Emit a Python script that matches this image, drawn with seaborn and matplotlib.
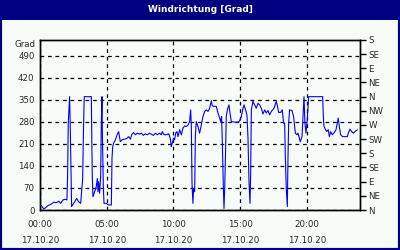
import matplotlib
matplotlib.use("Agg")
import matplotlib.pyplot as plt
from matplotlib.patches import Rectangle
import seaborn as sns
import pandas as pd

# hours since 17.10.20 00:00
hours = [0.05, 0.3, 0.6, 0.85, 1.05, 1.22, 1.4, 1.55, 1.72, 1.9, 2.02, 2.07, 2.12, 2.22, 2.27, 2.37,
         2.6, 2.75, 2.9, 3.05, 3.15, 3.2, 3.27, 3.32, 3.85, 3.87, 3.92, 3.97, 4.1, 4.22, 4.3, 4.35,
         4.4, 4.47, 4.55, 4.6, 4.65, 4.67, 4.75, 4.8, 4.97, 5.15, 5.35, 5.4, 5.45, 5.52, 5.65, 5.8,
         5.9, 6.02, 6.15, 6.35, 6.5, 6.65, 6.78, 6.9, 7.02, 7.15, 7.3, 7.47, 7.6, 7.75, 7.9, 8.05,
         8.22, 8.35, 8.5, 8.65, 8.8, 8.97, 9.1, 9.17, 9.3, 9.47, 9.65, 9.77, 9.85, 9.92, 10.02, 10.1,
         10.17, 10.27, 10.35, 10.47, 10.6, 10.72, 10.85, 10.97, 11.1, 11.22, 11.3, 11.35, 11.4, 11.47,
         11.52, 11.6, 11.65, 11.72, 11.85, 11.97, 12.1, 12.22, 12.35, 12.47, 12.6, 12.72, 12.85, 12.92,
         13.05, 13.22, 13.35, 13.47, 13.55, 13.62, 13.67, 13.75, 13.8, 13.85, 13.92, 13.97, 14.05,
         14.17, 14.25, 14.35, 14.6, 14.85, 14.97, 15.1, 15.22, 15.3, 15.42, 15.52, 15.6, 15.67, 15.75,
         15.8, 15.85, 15.97, 16.1, 16.22, 16.35, 16.47, 16.6, 16.72, 16.85, 16.97, 17.1, 17.22, 17.35,
         17.55, 17.72, 17.8, 17.9, 18.05, 18.17, 18.27, 18.35, 18.4, 18.47, 18.55, 18.6, 18.65, 18.72,
         18.9, 19.02, 19.15, 19.27, 19.35, 19.42, 19.52, 19.65, 19.72, 19.8, 19.87, 19.95, 20.05, 20.15,
         21.2, 21.25, 21.3, 21.4, 21.5, 21.62, 21.7, 21.8, 21.92, 22.07, 22.2, 22.3, 22.37, 22.45,
         22.55, 22.7, 22.87, 23.05, 23.12, 23.25, 23.37, 23.5, 23.62, 23.8]
direction = [16, 3, 14, 19, 25, 23, 28, 21, 32, 34, 32, 111, 276, 360, 265, 11,
             26, 37, 26, 21, 74, 100, 276, 360, 360, 276, 111, 42, 58, 74, 100, 58,
             90, 53, 106, 276, 360, 265, 74, 21, 21, 16, 16, 164, 200, 212, 223, 241,
             249, 217, 223, 225, 227, 233, 225, 241, 246, 239, 244, 241, 244, 237, 242, 239,
             244, 241, 237, 244, 239, 244, 239, 249, 239, 239, 242, 228, 201, 212, 228, 223,
             244, 249, 233, 255, 239, 260, 267, 265, 270, 281, 318, 265, 85, 21,
             69, 58, 233, 281, 265, 244, 270, 297, 313, 318, 313, 323, 347, 331,
             329, 329, 308, 292, 281, 297, 223, 74, 5, 64, 191, 297, 318,
             334, 308, 281, 279, 279, 283, 297, 323, 334, 318, 302, 228, 95, 21,
             117, 318, 345, 334, 323, 339, 334, 323, 305, 318, 308, 316, 302, 313,
             323, 345, 331, 310, 310, 318, 276, 276, 170, 69, 11, 170, 276, 318,
             316, 297, 244, 239, 244, 233, 217, 233, 292, 360, 276, 244, 290, 360,
             360, 297, 265, 257, 249, 255, 233, 249, 239, 246, 255, 276, 292, 265,
             239, 233, 233, 233, 244, 257, 249, 244, 249, 255]

left_ticks = [0, 70, 140, 210, 280, 350, 420, 490]
compass_ticks = [0, 45, 90, 135, 180, 225, 270, 315, 360, 405, 450, 495, 540]
compass_labels = ["N", "NE", "E", "SE", "S", "SW", "W", "NW", "N", "NE", "E", "SE", "S"]
time_ticks = [0, 5, 10, 15, 20]
time_labels = ["00:00\n17.10.20", "05:00\n17.10.20", "10:00\n17.10.20", "15:00\n17.10.20", "20:00\n17.10.20"]
title = "Windrichtung [Grad]"

sns.set_style("white")
plt.rcParams["font.family"] = ["DejaVu Sans"]

bg = "#F8FCF8"
navy = "#000080"
fs = 6.2
fig = plt.figure(figsize=(4, 2.5), dpi=100, facecolor=bg)

# frame and title bar
fig.patches.append(Rectangle((0, 0), 1, 1, transform=fig.transFigure, facecolor="none",
                             edgecolor=navy, linewidth=3, zorder=0))
fig.patches.append(Rectangle((0, 230 / 250), 1, 20 / 250, transform=fig.transFigure,
                             facecolor=navy, edgecolor="none", zorder=1))
fig.text(0.5, 240 / 250, title, color="white", fontsize=6.5, fontweight="bold",
         ha="center", va="center")

ax = fig.add_axes([40 / 400, 40 / 250, 320 / 400, 170 / 250])
ax.set_facecolor(bg)
df = pd.DataFrame({"h": hours, "dir": direction})
sns.lineplot(data=df, x="h", y="dir", ax=ax, color="#0000FF", linewidth=0.8, estimator=None)

ax.set_xlim(0, 24)
ax.set_ylim(0, 540)
ax.set_xlabel("")
ax.set_ylabel("")
ax.set_yticks(left_ticks)
ax.set_yticklabels([str(t) for t in left_ticks], fontsize=fs)
ax.set_xticks(time_ticks)
ax.set_xticklabels(time_labels, fontsize=fs, linespacing=2.0)
ax.set_xticks(range(0, 25), minor=True)
ax.tick_params(axis="y", length=0, pad=4)
ax.tick_params(axis="x", which="both", length=4, width=1, color="black", direction="out", pad=3)
for s in ax.spines.values():
    s.set_color("black")
    s.set_linewidth(1)
ax.grid(True, which="major", color="black", linestyle=(0, (3, 3)), linewidth=0.9)
ax.text(-0.015, 540 - 15, "Grad", transform=ax.get_yaxis_transform(), ha="right", va="center",
        fontsize=fs)

ax2 = ax.twinx()
ax2.set_ylim(0, 540)
ax2.set_yticks(compass_ticks)
ax2.set_yticklabels(compass_labels, fontsize=fs)
ax2.tick_params(axis="y", length=4, width=1, color="black", direction="out", pad=2)
for s in ax2.spines.values():
    s.set_color("black")
    s.set_linewidth(1)

fig.savefig("out.png", dpi=100, facecolor=bg)
